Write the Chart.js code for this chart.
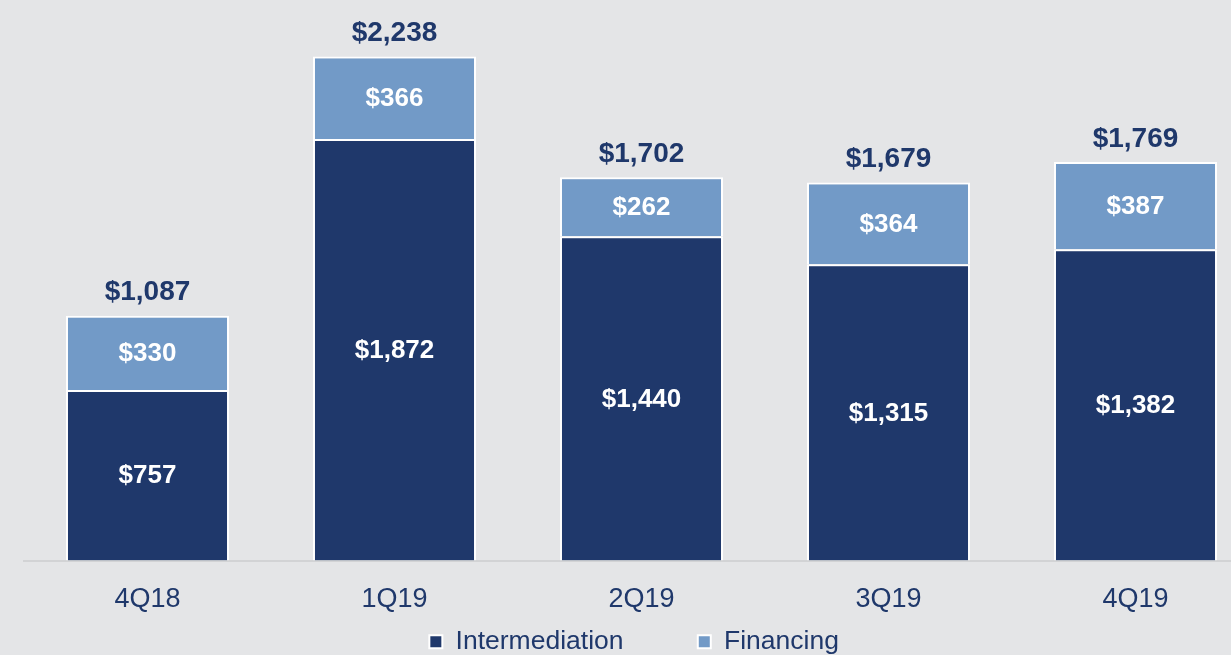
<!DOCTYPE html>
<html>
<head>
<meta charset="utf-8">
<script src="https://cdn.jsdelivr.net/npm/chart.js@4.4.1/dist/chart.umd.min.js"></script>
<style>
  html, body { margin: 0; padding: 0; background: #e4e5e7; overflow: hidden; }
  #wrap { width: 1260px; height: 655px; }
</style>
</head>
<body>
<div id="wrap"><canvas id="revenueChart" width="1260" height="655"></canvas></div>
<script>
// quarters and values ($ millions)
const quarters = ['4Q18', '1Q19', '2Q19', '3Q19', '4Q19'];
const intermediation = [757, 1872, 1440, 1315, 1382];
const financing = [330, 366, 262, 364, 387];
const totals = [1087, 2238, 1702, 1679, 1769];

const navy = '#1f386b';
const lightBlue = '#729ac7';
const fontFamily = '"Liberation Sans", Arial, sans-serif';

function money(v) {
    return '$' + v.toLocaleString('en-US');
}

// draws the value inside each segment and the total on top
const barLabels = {
    id: 'barLabels',
    afterDatasetsDraw: function(chart) {
        const ctx = chart.ctx;
        ctx.save();
        ctx.textAlign = 'center';
        ctx.textBaseline = 'middle';
        ctx.font = 'bold 26px ' + fontFamily;
        chart.data.datasets.forEach(function(ds, i) {
            const meta = chart.getDatasetMeta(i);
            meta.data.forEach(function(bar, j) {
                ctx.fillStyle = '#ffffff';
                ctx.fillText(money(ds.data[j]), bar.x, (bar.y + bar.base) / 2 + 1);
            });
        });
        ctx.font = 'bold 28px ' + fontFamily;
        const top = chart.getDatasetMeta(chart.data.datasets.length - 1);
        top.data.forEach(function(bar, j) {
            ctx.fillStyle = navy;
            ctx.fillText(money(totals[j]), bar.x, bar.y - 23);
        });
        ctx.restore();
    }
};

const ctx = document.getElementById('revenueChart').getContext('2d');

const revenueChart = new Chart(ctx, {
    type: 'bar',
    data: {
        labels: quarters,
        datasets: [{
            label: 'Intermediation',
            data: intermediation,
            backgroundColor: navy,
            borderColor: '#ffffff',
            borderWidth: 2,
            borderSkipped: 'start',
            categoryPercentage: 1,
            barPercentage: 0.66
        }, {
            label: 'Financing',
            data: financing,
            backgroundColor: lightBlue,
            borderColor: '#ffffff',
            borderWidth: 2,
            borderSkipped: 'start',
            categoryPercentage: 1,
            barPercentage: 0.66
        }]
    },
    options: {
        responsive: false,
        animation: false,
        layout: {
            padding: { left: 24, right: 1, top: 20, bottom: -10 }
        },
        plugins: {
            legend: {
                position: 'bottom',
                labels: {
                    boxWidth: 13,
                    boxHeight: 13,
                    padding: 8,
                    color: navy,
                    font: { family: fontFamily, size: 26.5 },
                    // trailing spaces set the gap between entries and nudge the row left
                    generateLabels: function(chart) {
                        const items = Chart.defaults.plugins.legend.labels.generateLabels(chart);
                        items[0].text = items[0].text + '         ';
                        items[1].text = items[1].text + '  ';
                        return items;
                    }
                }
            },
            tooltip: { enabled: false }
        },
        scales: {
            x: {
                stacked: true,
                grid: { display: false, drawTicks: false },
                border: { color: '#d2d3d5', width: 2 },
                ticks: {
                    color: navy,
                    padding: 23,
                    font: { family: fontFamily, size: 27 }
                },
                afterFit: function(scale) {
                    scale.height = 60;
                }
            },
            y: {
                stacked: true,
                display: false,
                min: 0,
                max: 2400
            }
        }
    },
    plugins: [barLabels]
});
</script>
</body>
</html>
